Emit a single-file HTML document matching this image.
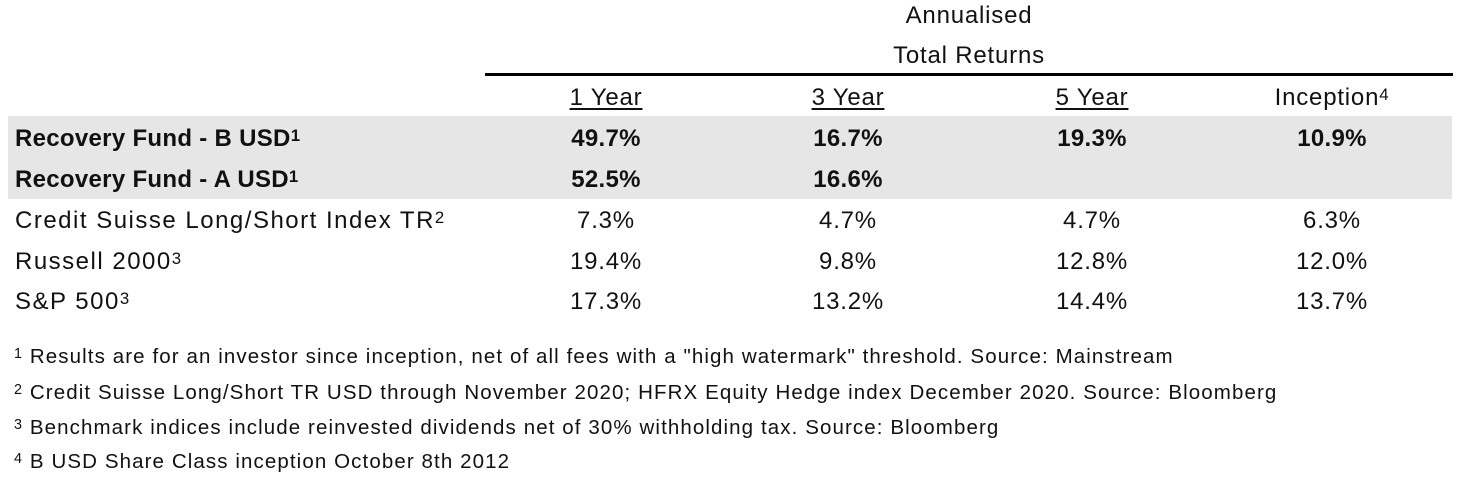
<!DOCTYPE html>
<html><head><meta charset="utf-8"><style>
body{margin:0;width:1460px;height:483px;background:#fff;position:relative;overflow:hidden;font-family:"Liberation Sans",sans-serif;color:#111}
.t{position:absolute;white-space:nowrap;font-size:24px;line-height:28px;letter-spacing:0.8px}
.lab{letter-spacing:1.5px}
.c{transform:translateX(-50%)}
.b{font-weight:bold;letter-spacing:0.3px}
.f{position:absolute;left:14px;white-space:nowrap;font-size:20.5px;line-height:24px;letter-spacing:1.1px}
sup{font-size:70%;vertical-align:top;position:relative;top:-3px}
u{text-decoration-thickness:2px;text-underline-offset:3px}
</style></head><body>
<div style="position:absolute;left:8px;top:116px;width:1444px;height:83px;background:#e7e6e6"></div>
<div class="t c" style="left:969px;top:2px">Annualised</div>
<div class="t c" style="left:969px;top:42px">Total Returns</div>
<div style="position:absolute;left:485px;top:73px;width:968px;height:3px;background:#000"></div>
<div class="t c" style="left:606px;top:84px"><u>1 Year</u></div>
<div class="t c" style="left:848px;top:84px"><u>3 Year</u></div>
<div class="t c" style="left:1092px;top:84px"><u>5 Year</u></div>
<div class="t c" style="left:1332px;top:84px">Inception<sup>4</sup></div>
<div id="rows"></div>
<div class="f" style="top:345px"><sup>1</sup> Results are for an investor since inception, net of all fees with a "high watermark" threshold. Source: Mainstream</div>
<div class="f" style="top:381px"><sup>2</sup> Credit Suisse Long/Short TR USD through November 2020; HFRX Equity Hedge index December 2020. Source: Bloomberg</div>
<div class="f" style="top:416px"><sup>3</sup> Benchmark indices include reinvested dividends net of 30% withholding tax. Source: Bloomberg</div>
<div class="f" style="top:450px"><sup>4</sup> B USD Share Class inception October 8th 2012</div>
<script>
const names=["Recovery Fund - B USD<sup>1</sup>","Recovery Fund - A USD<sup>1</sup>","Credit Suisse Long/Short Index TR<sup>2</sup>","Russell 2000<sup>3</sup>","S&amp;P 500<sup>3</sup>"];
const y1=["49.7%","52.5%","7.3%","19.4%","17.3%"];
const y3=["16.7%","16.6%","4.7%","9.8%","13.2%"];
const y5=["19.3%","","4.7%","12.8%","14.4%"];
const inc=["10.9%","","6.3%","12.0%","13.7%"];
const rowTops=[125,166,207,248,288];
const colX=[606,848,1092,1332];
const root=document.getElementById('rows');
names.forEach((n,i)=>{
  const bold=i<2?' b':'';
  const d=document.createElement('div');
  d.className='t lab'+bold;
  d.style.left='15px';d.style.top=rowTops[i]+'px';
  d.innerHTML=n;
  
  
  root.appendChild(d);
  [y1,y3,y5,inc].forEach((arr,j)=>{
    if(!arr[i])return;
    const c=document.createElement('div');
    c.className='t c'+bold;
    c.style.left=colX[j]+'px';c.style.top=rowTops[i]+'px';
    c.textContent=arr[i];
    
    
    root.appendChild(c);
  });
});
</script>
</body></html>
